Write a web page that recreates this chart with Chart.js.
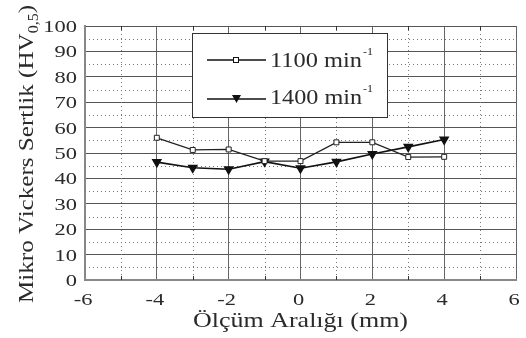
<!DOCTYPE html>
<html>
<head>
<meta charset="utf-8">
<script src="https://cdn.jsdelivr.net/npm/chart.js@4/dist/chart.umd.min.js"></script>
<style>
  html, body { margin: 0; padding: 0; background: #fff; }
  #wrap { width: 526px; height: 338px; }
</style>
</head>
<body>
<div id="wrap"><canvas id="grafico" width="526" height="338"></canvas></div>
<script>
// dados
const posicoes = [-4, -3, -2, -1, 0, 1, 2, 3, 4];
const serie1100 = [56, 51.2, 51.4, 46.8, 46.8, 54.2, 54.2, 48.4, 48.5];
const serie1400 = [46.4, 44.2, 43.6, 46.6, 44, 46.5, 49.6, 52.4, 55.3];
const legendas = ["1100 min", "1400 min"];
const tituloY = "Mikro Vickers Sertlik (HV";
const subY = "0,5";
const tituloX = "Ölçüm Aralığı (mm)";

const fonte = "'Liberation Serif', 'DejaVu Serif', serif";
const esticar = 1.32; // o texto do original é mais largo que alto

// escreve texto esticado na horizontal
function texto(ctx, t, x, y, tam, alinh, fator) {
  const f = fator || esticar;
  ctx.save();
  ctx.font = tam + "px " + fonte;
  const w = ctx.measureText(t).width * f;
  let x0 = x;
  if (alinh === "center") x0 = x - w / 2;
  if (alinh === "right") x0 = x - w;
  ctx.translate(x0, y);
  ctx.scale(f, 1);
  ctx.textAlign = "left";
  ctx.fillText(t, 0, 0);
  ctx.restore();
  return w;
}

// grade secundária pontilhada + marcas pequenas
const gradeMenor = {
  id: "gradeMenor",
  beforeDatasetsDraw(chart) {
    const { ctx, chartArea: a, scales: { x, y } } = chart;
    ctx.save();
    ctx.strokeStyle = "#777";
    ctx.lineWidth = 1;
    ctx.setLineDash([1, 3]);
    for (let v = -5; v <= 5; v += 2) {
      const px = Math.round(x.getPixelForValue(v)) + 0.5;
      ctx.beginPath(); ctx.moveTo(px, a.top); ctx.lineTo(px, a.bottom); ctx.stroke();
    }
    for (let v = 5; v <= 95; v += 10) {
      const py = Math.round(y.getPixelForValue(v)) + 0.5;
      ctx.beginPath(); ctx.moveTo(a.left, py); ctx.lineTo(a.right, py); ctx.stroke();
    }
    ctx.setLineDash([]);
    ctx.strokeStyle = "#333";
    for (let v = -5; v <= 5; v += 2) {
      const px = Math.round(x.getPixelForValue(v)) + 0.5;
      ctx.beginPath(); ctx.moveTo(px, a.bottom); ctx.lineTo(px, a.bottom - 4); ctx.stroke();
      ctx.beginPath(); ctx.moveTo(px, a.top); ctx.lineTo(px, a.top + 4); ctx.stroke();
    }
    ctx.restore();
  }
};

// rótulos, títulos e legenda (texto esticado, sobrescrito/subscrito)
const textos = {
  id: "textos",
  afterDraw(chart) {
    const { ctx, chartArea: a, scales: { x, y } } = chart;
    ctx.save();
    ctx.fillStyle = "#2a2a2a";
    ctx.textBaseline = "alphabetic";

    // rótulos dos eixos
    x.ticks.forEach(t => {
      texto(ctx, String(t.value), x.getPixelForValue(t.value) - 2, 305, 17, "center");
    });
    y.ticks.forEach(t => {
      texto(ctx, String(t.value), 77, y.getPixelForValue(t.value) + 6, 17, "right");
    });

    // título X
    ctx.font = "22px " + fonte;
    const fx = 215 / ctx.measureText(tituloX).width;
    texto(ctx, tituloX, (a.left + a.right) / 2, 327, 22, "center", fx);

    // título Y
    ctx.save();
    ctx.translate(33, 154);
    ctx.rotate(-Math.PI / 2);
    ctx.font = "22px " + fonte;
    const w1 = ctx.measureText(tituloY).width;
    ctx.font = "14px " + fonte;
    const w2 = ctx.measureText(subY).width;
    ctx.font = "22px " + fonte;
    const w3 = ctx.measureText(")").width;
    const fy = 298 / (w1 + w2 + w3);
    let sx = -298 / 2;
    sx += texto(ctx, tituloY, sx, 0, 22, "left", fy);
    sx += texto(ctx, subY, sx, 5, 14, "left", fy);
    texto(ctx, ")", sx, 0, 22, "left", fy);
    ctx.restore();
    ctx.restore();

    // legenda
    ctx.save();
    const bx = 192.5, by = 33.5, bw = 195, bh = 84;
    ctx.fillStyle = "#fff";
    ctx.fillRect(bx, by, bw, bh);
    ctx.strokeStyle = "#333";
    ctx.lineWidth = 1;
    ctx.strokeRect(bx, by, bw, bh);
    legendas.forEach((txt, i) => {
      const ly = 60 + i * 39;
      ctx.strokeStyle = "#111";
      ctx.lineWidth = 1.3;
      ctx.beginPath(); ctx.moveTo(207, ly); ctx.lineTo(266, ly); ctx.stroke();
      if (i === 0) {
        ctx.fillStyle = "#fff";
        ctx.fillRect(233, ly - 3, 6, 6);
        ctx.lineWidth = 1;
        ctx.strokeRect(233.5, ly - 2.5, 5, 5);
      } else {
        ctx.fillStyle = "#111";
        ctx.beginPath();
        ctx.moveTo(232, ly - 4); ctx.lineTo(241, ly - 4); ctx.lineTo(236.5, ly + 4);
        ctx.closePath(); ctx.fill();
      }
      ctx.fillStyle = "#2a2a2a";
      ctx.font = "20px " + fonte;
      const fl = 92 / ctx.measureText(txt).width;
      const base = i === 0 ? 67 : 104;
      const tw = texto(ctx, txt, 270, base, 20, "left", fl);
      texto(ctx, "-1", 270 + tw + 1, base - 12, 11, "left", 1.1);
    });
    ctx.restore();
  }
};

new Chart(document.getElementById("grafico"), {
  type: "line",
  data: {
    labels: posicoes,
    datasets: [
      {
        label: legendas[0],
        data: posicoes.map((p, i) => ({ x: p, y: serie1100[i] })),
        borderColor: "#222",
        borderWidth: 1.3,
        pointStyle: "rect",
        pointRadius: 3.5,
        pointBackgroundColor: "#fff",
        pointBorderColor: "#222",
        pointBorderWidth: 1,
        tension: 0
      },
      {
        label: legendas[1],
        data: posicoes.map((p, i) => ({ x: p, y: serie1400[i] })),
        borderColor: "#111",
        borderWidth: 1.6,
        pointStyle: "triangle",
        rotation: 180,
        pointRadius: 4.5,
        pointBackgroundColor: "#111",
        pointBorderColor: "#111",
        tension: 0
      }
    ]
  },
  options: {
    responsive: false,
    animation: false,
    layout: { padding: { top: 26, right: 10, bottom: 0, left: 0 } },
    plugins: { legend: { display: false }, tooltip: { enabled: false } },
    scales: {
      x: {
        type: "linear",
        min: -6, max: 6,
        ticks: { stepSize: 2, display: false },
        grid: { color: "#666", lineWidth: 1, drawTicks: false },
        border: { color: "#888", width: 2 },
        afterFit(s) { s.height = 58; }
      },
      y: {
        min: 0, max: 100,
        ticks: { stepSize: 10, autoSkip: false, display: false },
        grid: { color: "#555", lineWidth: 1, drawTicks: false },
        border: { color: "#888", width: 2 },
        afterFit(s) { s.width = 85; }
      }
    }
  },
  plugins: [gradeMenor, textos]
});
</script>
</body>
</html>
